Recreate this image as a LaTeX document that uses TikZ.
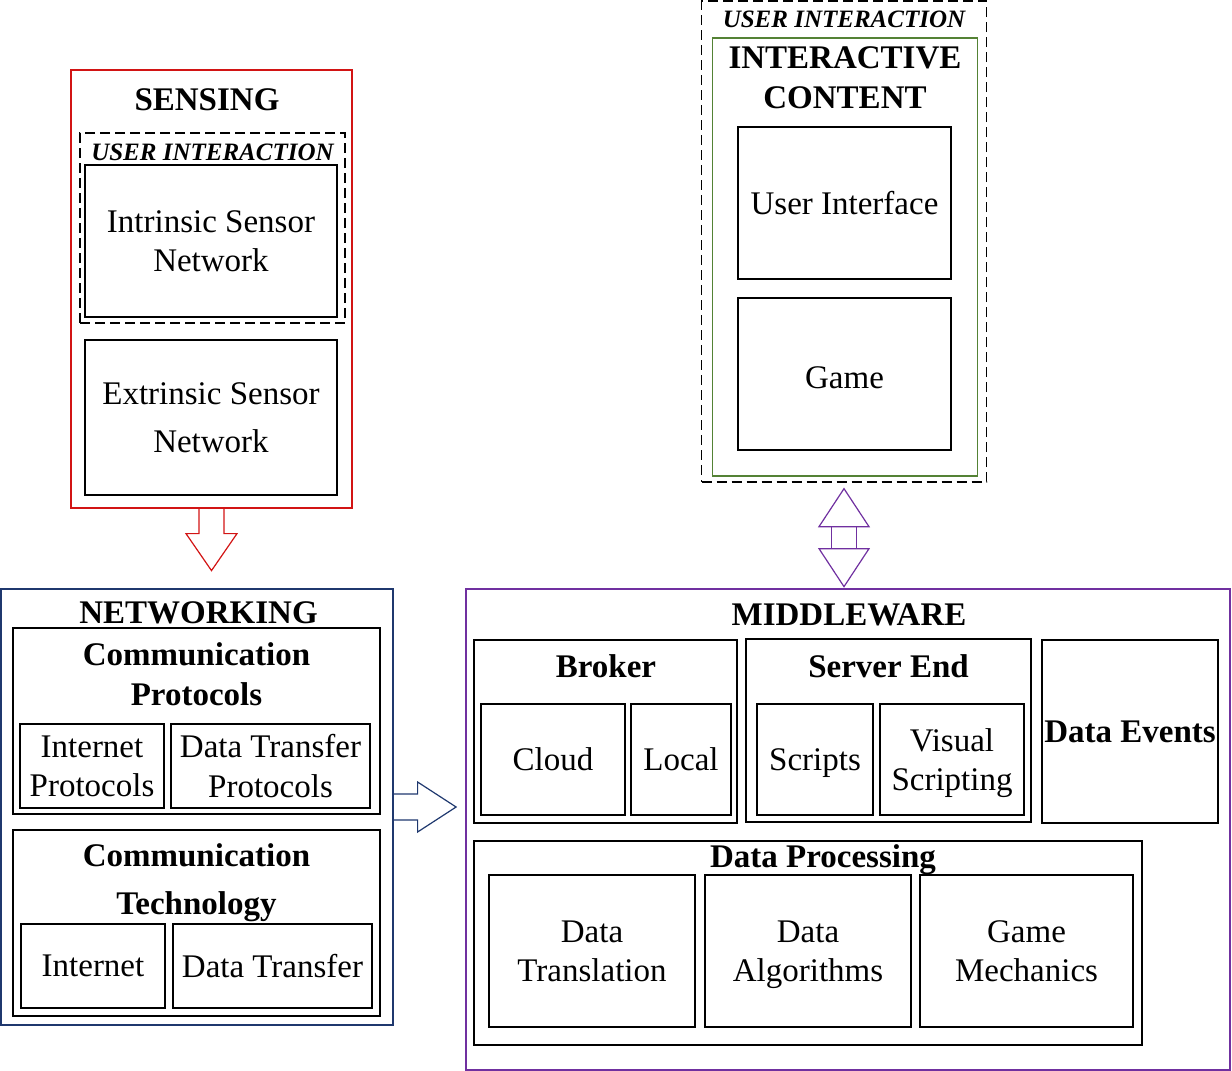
\documentclass[tikz,border=0pt]{standalone}
\usepackage{fontspec}
\setmainfont{Liberation Serif}
\definecolor{sensered}{RGB}{210,20,20}
\definecolor{netblue}{RGB}{31,56,110}
\definecolor{midpurple}{RGB}{112,48,160}
\definecolor{contgreen}{RGB}{84,130,53}

\begin{document}
\begin{tikzpicture}[x=0.5pt, y=-0.5pt,
    every node/.style={font=\fontsize{16.5}{19.75}\selectfont},
    px/.style 2 args={minimum width=#1*0.5pt, minimum height=#2*0.5pt},
    box/.style={draw, line width=0.6pt, inner sep=0pt, align=center, text depth=0pt},
    frame/.style={draw, line width=0.6pt, inner sep=0pt},
    dashframe/.style={draw, line width=0.65pt, inner sep=0pt, dash pattern=on 5pt off 2.5pt},
    boldtext/.style={font=\fontsize{16.5}{19.75}\selectfont\bfseries},
    title/.style={boldtext, anchor=base, inner sep=0pt},
    tag/.style={anchor=base, inner sep=0pt, font=\fontsize{12.5}{15}\selectfont\bfseries\itshape}]
    \useasboundingbox (0,0) rectangle (1232,1071);

    % sensing
    \node[frame, draw=sensered, px={281}{438}] (sensing) at (211.5, 289) {};
    \node[title] (sensing_t) at (207, 110) {SENSING};
    \node[dashframe, px={265}{190}] (ui_s) at (212.5, 228) {};
    \node[tag] (ui_s_t) at (212.5, 160) {USER INTERACTION};
    \node[box, px={252}{152}] (intrinsic) at (211, 241) {Intrinsic Sensor\\Network};
    \node[box, px={252}{155}] (extrinsic) at (211, 417.5) {Extrinsic Sensor\\[4.25pt]Network};

    % networking
    \node[frame, draw=netblue, px={392}{436}] (networking) at (197, 807) {};
    \node[title] (networking_t) at (198.5, 623) {NETWORKING};
    \node[box, px={367}{186}] (protocols) at (196.5, 721) {};
    \node[title, anchor=center, align=center] (protocols_t) at (196.5, 674) {Communication\\Protocols};
    \node[box, px={144}{84}] (internet_p) at (92, 766) {Internet\\Protocols};
    \node[box, px={199}{84}] (transfer_p) at (270.5, 766) {Data Transfer\\Protocols};
    \node[box, px={367}{186}] (technology) at (196.5, 923) {};
    \node[title, anchor=center, align=center] (technology_t) at (196.5, 883) {Communication\\[4.25pt]Technology};
    \node[box, px={144}{84}] (internet_t) at (93, 966) {Internet};
    \node[box, px={199}{84}] (transfer_t) at (272.5, 966) {Data Transfer};

    % middleware
    \node[frame, draw=midpurple, px={764}{481}] (middleware) at (848, 829.5) {};
    \node[title] (middleware_t) at (849, 625) {MIDDLEWARE};
    \node[box, px={263}{183}] (broker) at (605.5, 731.5) {};
    \node[title] (broker_t) at (606, 677) {Broker};
    \node[box, px={144}{111}] (cloud) at (553, 759.5) {Cloud};
    \node[box, px={100}{111}] (local) at (681, 759.5) {Local};
    \node[box, px={285}{183}] (server) at (888.5, 730.5) {};
    \node[title] (server_t) at (888.5, 677) {Server End};
    \node[box, px={116}{111}] (scripts) at (815, 759.5) {Scripts};
    \node[box, px={144}{111}] (visual) at (952, 759.5) {Visual\\Scripting};
    \node[box, boldtext, px={176}{183}] (events) at (1130, 731.5) {Data Events};
    \node[box, px={668}{204}] (processing) at (808, 943) {};
    \node[title] (processing_t) at (823, 867) {Data Processing};
    \node[box, px={206}{152}] (translation) at (592, 951) {Data\\Translation};
    \node[box, px={206}{152}] (algorithms) at (808, 951) {Data\\Algorithms};
    \node[box, px={213}{152}] (mechanics) at (1026.5, 951) {Game\\Mechanics};

    % interactive content
    \node[dashframe, px={285}{481}] (ui_c) at (844, 241.5) {};
    \node[tag] (ui_c_t) at (844, 27) {USER INTERACTION};
    \node[frame, draw=contgreen, px={265}{438}] (content) at (845, 257) {};
    \node[title, anchor=center, align=center] (content_t) at (845, 77.5) {INTERACTIVE\\CONTENT};
    \node[box, px={213}{152}] (interface) at (844.5, 203) {User Interface};
    \node[box, px={213}{152}, text height=14.7pt] (game) at (844.5, 374) {Game};

    % block arrows
    \draw[sensered, line width=0.6pt] ([xshift=-6.25pt]sensing.south) -- ++(0,25) -- ++(-13,0)
        -- ++(25.5,37) -- ++(25.5,-37) -- ++(-13,0) -- ++(0,-25);
    \draw[netblue, line width=0.6pt] ([yshift=6.5pt]networking.east) -- ++(24,0) -- ++(0,-12)
        -- ++(38.5,25) -- ++(-38.5,25) -- ++(0,-12) -- ++(-24,0);
    \coordinate (dbl_up) at ([yshift=-3pt]ui_c.south);
    \path (dbl_up) ++(0,38) coordinate (dbl_a) ++(0,22) coordinate (dbl_b);
    \draw[midpurple, line width=0.6pt] (dbl_up) -- ([xshift=-12.5pt]dbl_a) -- ([xshift=12.5pt]dbl_a) -- cycle;
    \draw[midpurple, line width=0.6pt] ([xshift=-6.25pt]dbl_a) rectangle ([xshift=6.25pt]dbl_b);
    \draw[midpurple, line width=0.6pt] ([xshift=-12.5pt]dbl_b) -- ([xshift=12.5pt]dbl_b) -- ++(-25,38) -- cycle;

\end{tikzpicture}
\end{document}
